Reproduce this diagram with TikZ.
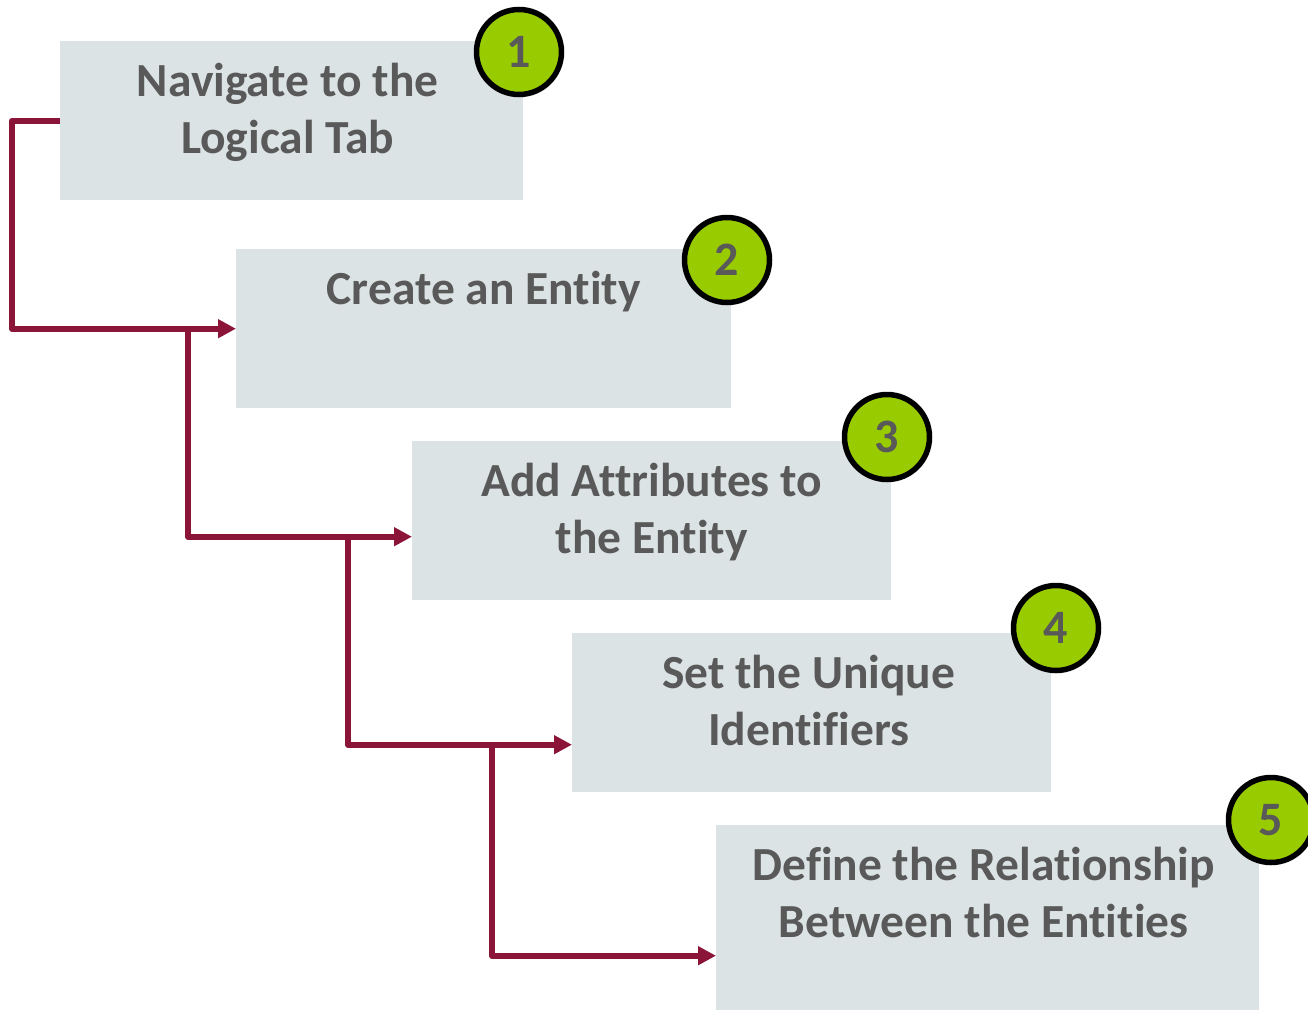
\documentclass[tikz,border=0pt]{standalone}
\usepackage{fontspec}
\setmainfont{Carlito}[Ligatures=NoCommon]
\usepackage{xcolor}
\usepackage{tikz}
\usetikzlibrary{positioning,arrows.meta,calc}

\definecolor{stepgray}{HTML}{DCE3E4}
\definecolor{textgray}{HTML}{595959}
\definecolor{linkred}{HTML}{8B1538}
\definecolor{badgegreen}{HTML}{99CC00}

\begin{document}
\begin{tikzpicture}[
    x=1pt, y=-1pt,
    box/.style={fill=stepgray, draw=none, anchor=north west, minimum height=159pt},
    lbl/.style={align=center, text=textgray, inner sep=0pt,
                font=\fontsize{47.5}{57}\selectfont\bfseries},
    badge/.style={circle, draw=black, line width=5.5pt, fill=badgegreen,
                  minimum size=85pt, inner sep=0pt, text=textgray,
                  font=\fontsize{48}{57}\selectfont\bfseries},
    arr/.style={-{Triangle[length=18pt,width=18pt]}, line width=6pt,
                draw=linkred, line join=round},
]
  \useasboundingbox (0,0) rectangle (1308,1012);

  % step boxes
  \node[box, minimum width=463pt] (nav) at (60,41) {};
  \node[box, minimum width=495pt] (ent) at (236,249) {};
  \node[box, minimum width=479pt] (attr) at (412,441) {};
  \node[box, minimum width=479pt] (uid) at (572,633) {};
  \node[box, minimum width=543pt, minimum height=185pt] (rel) at (716,825) {};

  % labels, hung from the top edge of each box
  \node[lbl, below=22pt of nav.north, xshift=-4pt] (navtxt) {Navigate to the\\Logical Tab};
  \node[lbl, below=22pt of ent.north] (enttxt) {Create an Entity};
  \node[lbl, below=22pt of attr.north] (attrtxt) {Add Attributes to\\the Entity};
  \node[lbl, below=22pt of uid.north, xshift=-3pt] (uidtxt) {Set the Unique\\Identifiers};
  \node[lbl, below=22pt of rel.north, xshift=-4pt] (reltxt) {Define the Relationship\\Between the Entities};

  % numbered badges
  \node[badge] (b1) at (519,52) {1};
  \node[badge] (b2) at (727,260) {2};
  \node[badge] (b3) at (887,437) {3};
  \node[badge] (b4) at (1056,628) {4};
  \node[badge] (b5) at (1271,820) {5};

  % branch points on the flow lines
  \coordinate (j1) at ($(ent.west)+(-48,0)$);
  \coordinate (j2) at ($(attr.west)+(-64,16)$);
  \coordinate (j3) at ($(uid.west)+(-80,32)$);

  \draw[arr] (nav.west) -- ++(-48,0) |- (ent.west);
  \draw[arr] (j1) |- ([yshift=-16pt]attr.west);
  \draw[arr] (j2) |- ([yshift=-32pt]uid.west);
  \draw[arr] (j3) |- ([yshift=-38pt]rel.west);
\end{tikzpicture}
\end{document}
